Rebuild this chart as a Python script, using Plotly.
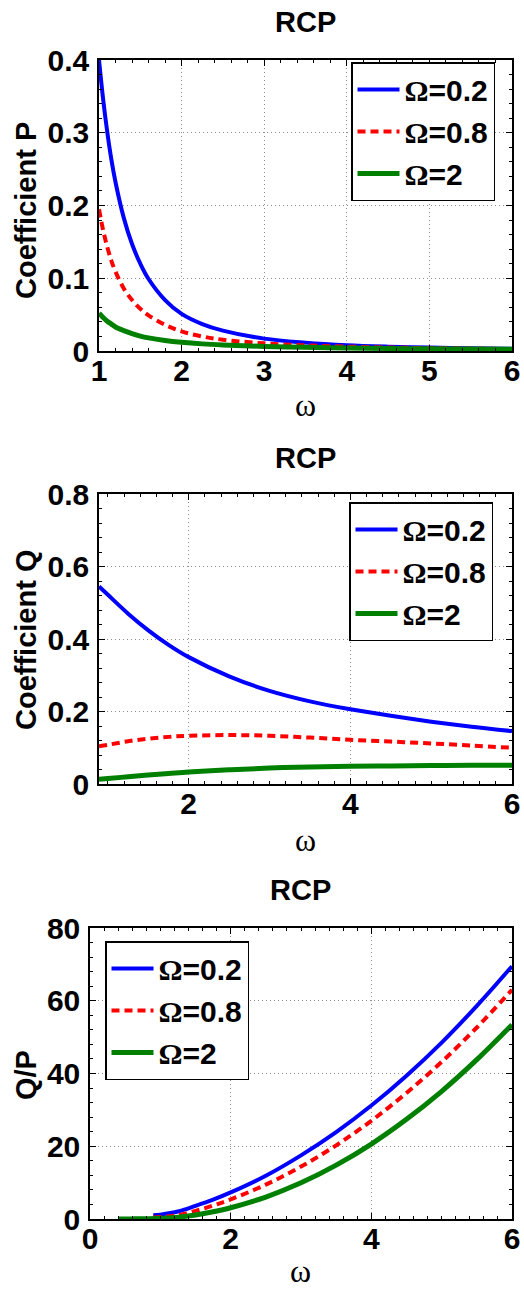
import plotly.graph_objects as go

# ---------------- data ----------------
legend_names = ["Ω=0.2", "Ω=0.8", "Ω=2"]

# Panel 1: Coefficient P
p_w = [1, 1.05, 1.1, 1.15, 1.2, 1.3, 1.4, 1.5, 1.6, 1.8, 2, 2.25, 2.5, 3, 3.5, 4, 4.5, 5, 5.5, 6]
p_02 = [0.400, 0.346, 0.301, 0.263, 0.232, 0.183, 0.147, 0.120, 0.099, 0.070, 0.051, 0.037, 0.028,
        0.017, 0.0115, 0.008, 0.006, 0.0047, 0.0038, 0.003]
p_08 = [0.195, 0.166, 0.143, 0.124, 0.109, 0.086, 0.070, 0.058, 0.049, 0.036, 0.027, 0.020, 0.0155,
        0.0105, 0.0077, 0.006, 0.0048, 0.0039, 0.0032, 0.0027]
p_2 = [0.052, 0.046, 0.041, 0.037, 0.033, 0.028, 0.024, 0.0205, 0.018, 0.0145, 0.012, 0.0098, 0.0083,
       0.0063, 0.005, 0.0041, 0.0035, 0.003, 0.0026, 0.0023]

# Panel 2: Coefficient Q
q_w = [0.89, 1, 1.25, 1.5, 1.75, 2, 2.5, 3, 3.5, 4, 4.5, 5, 5.5, 6]
q_02 = [0.545, 0.522, 0.470, 0.424, 0.384, 0.350, 0.297, 0.257, 0.228, 0.206, 0.188, 0.172, 0.158, 0.146]
q_08 = [0.104, 0.108, 0.118, 0.125, 0.130, 0.133, 0.135, 0.133, 0.128, 0.122, 0.117, 0.112, 0.106, 0.100]
q_2 = [0.013, 0.015, 0.020, 0.025, 0.029, 0.033, 0.039, 0.044, 0.047, 0.049, 0.050, 0.051, 0.052, 0.052]

# Panel 3: Q/P
r_w_02 = [0.9, 1, 1.25, 1.5, 1.75, 2, 2.5, 3, 3.5, 4, 4.5, 5, 5.5, 6]
r_02 = [1.0, 1.2, 2.05, 3.6, 5.3, 7.3, 11.9, 17.5, 23.9, 31.2, 39.4, 48.5, 58.6, 69.5]
r_w_08 = [0.9, 1, 1.25, 1.5, 1.75, 2, 2.5, 3, 3.5, 4, 4.5, 5, 5.5, 6]
r_08 = [0.4, 0.55, 1.05, 2.25, 3.7, 5.4, 9.45, 14.4, 20.25, 27.0, 34.65, 43.2, 52.65, 63.0]
r_w_2 = [0.4, 0.6, 0.8, 1, 1.25, 1.5, 1.75, 2, 2.5, 3, 3.5, 4, 4.5, 5, 5.5, 6]
r_2 = [0.0, 0.03, 0.08, 0.18, 0.5, 1.12, 2.0, 3.1, 6.04, 9.94, 14.8, 20.6, 27.4, 35.1, 43.8, 53.4]

# ---------------- style ----------------
W, H = 524, 1289
SANS = "Liberation Sans, Arial, sans-serif"
SERIF = "Liberation Serif, Times New Roman, serif"
colors = ["#0000ff", "#ff0000", "#008000"]
widths = [4, 4, 5]
dashes = ["solid", "8px,5px", "solid"]


def omega_label(s):
    return "<span style='font-family:Liberation Serif'>Ω</span>" + s[1:]


fig = go.Figure()

panels = [
    ([p_w, p_w, p_w], [p_02, p_08, p_2]),
    ([q_w, q_w, q_w], [q_02, q_08, q_2]),
    ([r_w_02, r_w_08, r_w_2], [r_02, r_08, r_2]),
]
for i, (xl, ys) in enumerate(panels):
    ax = "" if i == 0 else str(i + 1)
    for k in range(3):
        fig.add_trace(go.Scatter(
            x=xl[k], y=ys[k], mode="lines", name=omega_label(legend_names[k]),
            line=dict(color=colors[k], width=widths[k], dash=dashes[k], shape="spline", smoothing=1.0),
            xaxis="x" + ax, yaxis="y" + ax,
            legend="legend" if i == 0 else "legend" + str(i + 1),
        ))


def px_x(p):
    return p / W


def px_y(p):
    return 1 - p / H


tickfont = dict(family=SANS, size=30, color="black", weight="bold")


def axis_common():
    return dict(
        showline=True, linecolor="black", linewidth=1.5, mirror="allticks",
        ticks="inside", ticklen=6, tickwidth=1.2, tickcolor="black",
        showgrid=True, gridcolor="rgb(140,140,140)", gridwidth=1, griddash="1px,3px",
        zeroline=False, tickfont=tickfont, ticklabeloverflow="allow", automargin=False,
    )


# panel geometry in pixels (left, right, top, bottom)
geo = [(99, 512, 60, 351), (99, 512, 494, 784), (90, 512, 928, 1219)]

xcfg = [
    dict(range=[1, 6], tickvals=[1, 2, 3, 4, 5, 6], minor=dict(dtick=0.2)),
    dict(range=[0.89, 6], tickvals=[2, 4, 6], minor=dict(tick0=0, dtick=0.2)),
    dict(range=[0, 6], tickvals=[0, 2, 4, 6], minor=dict(dtick=0.2)),
]
ycfg = [
    dict(range=[0, 0.4], tickvals=[0, 0.1, 0.2, 0.3, 0.4], ticktext=["0", "0.1", "0.2", "0.3", "0.4"],
         minor=dict(dtick=0.02)),
    dict(range=[0, 0.8], tickvals=[0, 0.2, 0.4, 0.6, 0.8], ticktext=["0", "0.2", "0.4", "0.6", "0.8"],
         minor=dict(dtick=0.04)),
    dict(range=[0, 80], tickvals=[0, 20, 40, 60, 80], minor=dict(dtick=4)),
]

layout = dict(
    width=W, height=H, margin=dict(l=0, r=0, t=0, b=0, pad=0, autoexpand=False),
    paper_bgcolor="white", plot_bgcolor="white", showlegend=True,
)
for i in range(3):
    ax = "" if i == 0 else str(i + 1)
    l, r, t, b = geo[i]
    xa = axis_common()
    xa.update(xcfg[i])
    xa["minor"].update(ticks="inside", ticklen=3, tickcolor="black", showgrid=False)
    xa.update(domain=[px_x(l), px_x(r)], anchor="y" + ax, ticklabelstandoff=-8)
    ya = axis_common()
    ya.update(ycfg[i])
    ya["minor"].update(ticks="inside", ticklen=3, tickcolor="black", showgrid=False)
    ya.update(domain=[px_y(b), px_y(t)], anchor="x" + ax, ticklabelstandoff=2)
    layout["xaxis" + ax] = xa
    layout["yaxis" + ax] = ya

legend_pos = [(351, 62), (349, 502), (105, 941)]
for i, (lx, ly) in enumerate(legend_pos):
    key = "legend" if i == 0 else "legend" + str(i + 1)
    layout[key] = dict(
        x=px_x(lx), y=px_y(ly), xref="paper", yref="paper", xanchor="left", yanchor="top",
        bgcolor="white", bordercolor="black", borderwidth=1.5,
        font=dict(family=SANS, size=30, color="black", weight="bold"),
        itemwidth=42, tracegroupgap=0,
    )

fig.update_layout(**layout)

# titles and axis labels as annotations
titles_y = [22, 458, 890]
title_x = [305, 305, 300]
ylabels = ["Coefficient P", "Coefficient Q", "Q/P"]
ylabel_y = [211, 640, 1075]
xlabel_y = [405, 840, 1271]
for i in range(3):
    fig.add_annotation(text="RCP", x=px_x(title_x[i]), y=px_y(titles_y[i]), xref="paper", yref="paper",
                       showarrow=False, xanchor="center", yanchor="middle",
                       font=dict(family=SANS, size=29, color="black", weight="bold"))
    fig.add_annotation(text=ylabels[i], x=px_x(26), y=px_y(ylabel_y[i]), xref="paper", yref="paper",
                       showarrow=False, xanchor="center", yanchor="middle", textangle=-90,
                       font=dict(family=SANS, size=29, color="black", weight="bold"))
    fig.add_annotation(text="ω", x=px_x(title_x[i]), y=px_y(xlabel_y[i]), xref="paper", yref="paper",
                       showarrow=False, xanchor="center", yanchor="middle",
                       font=dict(family=SERIF, size=32, color="black"))

fig.write_html("out.html")
